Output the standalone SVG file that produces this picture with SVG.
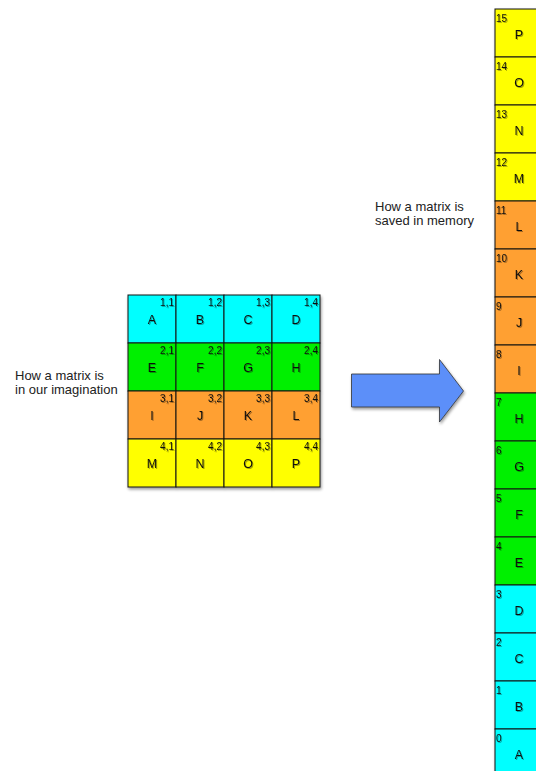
<svg xmlns="http://www.w3.org/2000/svg" width="536" height="771" viewBox="0 0 536 771">
<defs>
<filter id="sh" x="-10%" y="-10%" width="130%" height="130%">
<feGaussianBlur in="SourceAlpha" stdDeviation="1.5"/>
<feOffset dx="1" dy="2" result="b"/>
<feComponentTransfer><feFuncA type="linear" slope="0.4"/></feComponentTransfer>
<feMerge><feMergeNode/><feMergeNode in="SourceGraphic"/></feMerge>
</filter>
<filter id="ts" x="-20%" y="-20%" width="140%" height="140%">
<feGaussianBlur in="SourceAlpha" stdDeviation="0.6"/>
<feOffset dx="0.5" dy="1"/>
<feComponentTransfer><feFuncA type="linear" slope="0.35"/></feComponentTransfer>
<feMerge><feMergeNode/><feMergeNode in="SourceGraphic"/></feMerge>
</filter>
</defs>
<style>
text{font-family:"Liberation Sans",Arial,sans-serif;fill:#111}
.cell{stroke:#111;stroke-width:1}
.c{fill:#00ffff}.g{fill:#00f000}.o{fill:#ffa030}.y{fill:#ffff00}
.L{font-size:12.5px;text-anchor:middle}
.ix{font-size:10px;text-anchor:end}
.si{font-size:10px}
.lab{font-size:13px;fill:#222}
</style>
<rect width="536" height="771" fill="#fff"/>
<g id="label-imagination"><text class="lab" x="15" y="380">How a matrix is</text><text class="lab" x="15" y="394">in our imagination</text></g>
<g id="label-memory"><text class="lab" x="375" y="211">How a matrix is</text><text class="lab" x="375" y="225">saved in memory</text></g>
<g id="matrix" filter="url(#sh)">
<rect class="cell c" x="128" y="295" width="48" height="48"/><rect class="cell c" x="176" y="295" width="48" height="48"/><rect class="cell c" x="224" y="295" width="48" height="48"/><rect class="cell c" x="272" y="295" width="48" height="48"/>
<rect class="cell g" x="128" y="343" width="48" height="48"/><rect class="cell g" x="176" y="343" width="48" height="48"/><rect class="cell g" x="224" y="343" width="48" height="48"/><rect class="cell g" x="272" y="343" width="48" height="48"/>
<rect class="cell o" x="128" y="391" width="48" height="48"/><rect class="cell o" x="176" y="391" width="48" height="48"/><rect class="cell o" x="224" y="391" width="48" height="48"/><rect class="cell o" x="272" y="391" width="48" height="48"/>
<rect class="cell y" x="128" y="439" width="48" height="48"/><rect class="cell y" x="176" y="439" width="48" height="48"/><rect class="cell y" x="224" y="439" width="48" height="48"/><rect class="cell y" x="272" y="439" width="48" height="48"/>
</g>
<g id="matrix-text" filter="url(#ts)">
<text class="L" x="152" y="324">A</text><text class="L" x="200" y="324">B</text><text class="L" x="248" y="324">C</text><text class="L" x="296" y="324">D</text>
<text class="L" x="152" y="372">E</text><text class="L" x="200" y="372">F</text><text class="L" x="248" y="372">G</text><text class="L" x="296" y="372">H</text>
<text class="L" x="152" y="420">I</text><text class="L" x="200" y="420">J</text><text class="L" x="248" y="420">K</text><text class="L" x="296" y="420">L</text>
<text class="L" x="152" y="468">M</text><text class="L" x="200" y="468">N</text><text class="L" x="248" y="468">O</text><text class="L" x="296" y="468">P</text>
<text class="ix" x="174" y="306">1,1</text><text class="ix" x="222" y="306">1,2</text><text class="ix" x="270" y="306">1,3</text><text class="ix" x="318" y="306">1,4</text>
<text class="ix" x="174" y="354">2,1</text><text class="ix" x="222" y="354">2,2</text><text class="ix" x="270" y="354">2,3</text><text class="ix" x="318" y="354">2,4</text>
<text class="ix" x="174" y="402">3,1</text><text class="ix" x="222" y="402">3,2</text><text class="ix" x="270" y="402">3,3</text><text class="ix" x="318" y="402">3,4</text>
<text class="ix" x="174" y="450">4,1</text><text class="ix" x="222" y="450">4,2</text><text class="ix" x="270" y="450">4,3</text><text class="ix" x="318" y="450">4,4</text>
</g>
<g id="connectors">
<path d="M351.5 374 L439.5 374 L439.5 359.5 L463.5 391 L439.5 422 L439.5 407 L351.5 407 Z" fill="#5b8ff9" stroke="#333" stroke-width="0.8" filter="url(#sh)"/>
</g>
<g id="memory" filter="url(#sh)">
<rect class="cell y" x="495" y="9" width="48" height="48"/>
<rect class="cell y" x="495" y="57" width="48" height="48"/>
<rect class="cell y" x="495" y="105" width="48" height="48"/>
<rect class="cell y" x="495" y="153" width="48" height="48"/>
<rect class="cell o" x="495" y="201" width="48" height="48"/>
<rect class="cell o" x="495" y="249" width="48" height="48"/>
<rect class="cell o" x="495" y="297" width="48" height="48"/>
<rect class="cell o" x="495" y="345" width="48" height="48"/>
<rect class="cell g" x="495" y="393" width="48" height="48"/>
<rect class="cell g" x="495" y="441" width="48" height="48"/>
<rect class="cell g" x="495" y="489" width="48" height="48"/>
<rect class="cell g" x="495" y="537" width="48" height="48"/>
<rect class="cell c" x="495" y="585" width="48" height="48"/>
<rect class="cell c" x="495" y="633" width="48" height="48"/>
<rect class="cell c" x="495" y="681" width="48" height="48"/>
<rect class="cell c" x="495" y="729" width="48" height="48"/>
</g>
<g id="memory-text" filter="url(#ts)">
<text class="si" x="496" y="22">15</text><text class="L" x="519" y="39">P</text>
<text class="si" x="496" y="70">14</text><text class="L" x="519" y="87">O</text>
<text class="si" x="496" y="118">13</text><text class="L" x="519" y="135">N</text>
<text class="si" x="496" y="166">12</text><text class="L" x="519" y="183">M</text>
<text class="si" x="496" y="214">11</text><text class="L" x="519" y="231">L</text>
<text class="si" x="496" y="262">10</text><text class="L" x="519" y="279">K</text>
<text class="si" x="496" y="310">9</text><text class="L" x="519" y="327">J</text>
<text class="si" x="496" y="358">8</text><text class="L" x="519" y="375">I</text>
<text class="si" x="496" y="406">7</text><text class="L" x="519" y="423">H</text>
<text class="si" x="496" y="454">6</text><text class="L" x="519" y="471">G</text>
<text class="si" x="496" y="502">5</text><text class="L" x="519" y="519">F</text>
<text class="si" x="496" y="550">4</text><text class="L" x="519" y="567">E</text>
<text class="si" x="496" y="598">3</text><text class="L" x="519" y="615">D</text>
<text class="si" x="496" y="646">2</text><text class="L" x="519" y="663">C</text>
<text class="si" x="496" y="694">1</text><text class="L" x="519" y="711">B</text>
<text class="si" x="496" y="742">0</text><text class="L" x="519" y="759">A</text>
</g>
</svg>
